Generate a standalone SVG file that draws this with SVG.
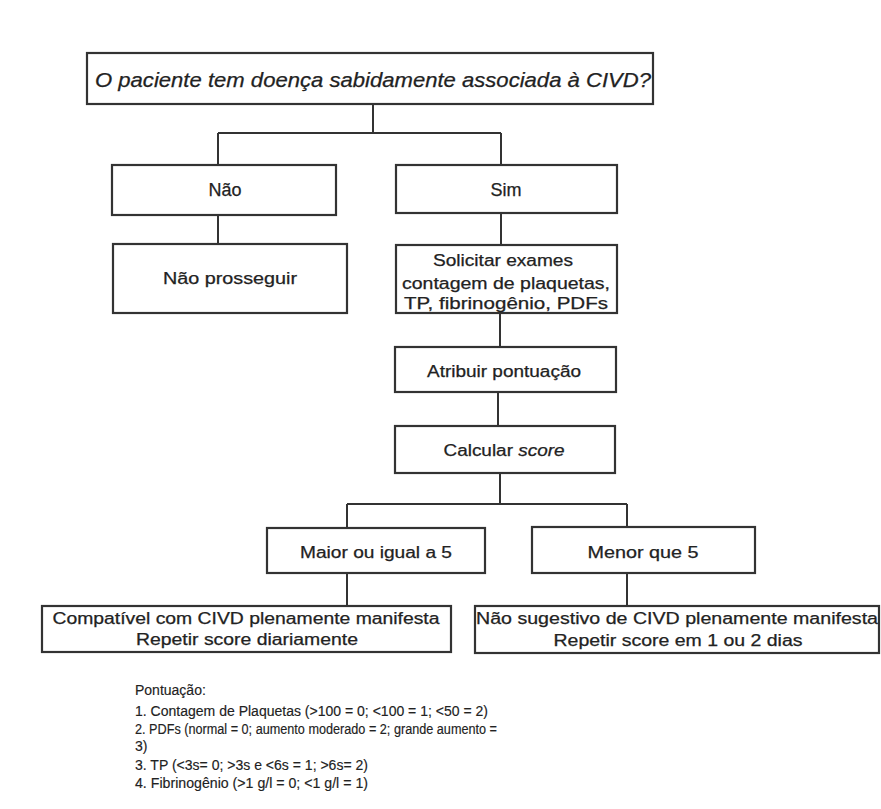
<svg xmlns="http://www.w3.org/2000/svg" width="881" height="809" viewBox="0 0 881 809">
<style>
.box{fill:#fff;stroke:#333;stroke-width:2.2}
.ln{fill:none;stroke:#333;stroke-width:2}
text{font-family:"Liberation Sans",Arial,sans-serif;fill:#222;text-anchor:middle;stroke:#222;stroke-width:0.25}
.t{font-size:16px}
.n{font-size:16px}
.lg{font-size:14px;text-anchor:start;stroke-width:0.15}
</style>
<rect width="881" height="809" fill="#fff"/>
<g id="connectors">
<path class="ln" d="M373 104V133M218 133H501M218 133V165M501 133V165"/>
<path class="ln" d="M218 215V244"/>
<path class="ln" d="M501 213V245"/>
<path class="ln" d="M500 313V347"/>
<path class="ln" d="M498 392V426"/>
<path class="ln" d="M500 473V504M347 504H627M347 504V528M627 504V527"/>
<path class="ln" d="M347 573V606M627 573V606"/>
</g>
<g id="q">
<rect class="box" x="87" y="53" width="566" height="51"/>
<text x="373" y="87" style="font-size:20px;font-style:italic" textLength="556" lengthAdjust="spacingAndGlyphs">O paciente tem doença sabidamente associada à CIVD?</text>
</g>
<g id="nao">
<rect class="box" x="112" y="165" width="224" height="50"/>
<text x="225" y="196" style="font-size:18px">Não</text>
</g>
<g id="sim">
<rect class="box" x="396" y="165" width="221" height="48"/>
<text x="506" y="196" style="font-size:18px">Sim</text>
</g>
<g id="naoprosseguir">
<rect class="box" x="113" y="244" width="234" height="69"/>
<text class="t" x="230" y="284" textLength="134" lengthAdjust="spacingAndGlyphs">Não prosseguir</text>
</g>
<g id="solicitar">
<rect class="box" x="396" y="245" width="221" height="68"/>
<text class="t" x="503" y="266" textLength="140" lengthAdjust="spacingAndGlyphs">Solicitar exames</text>
<text class="t" x="506" y="289" textLength="208" lengthAdjust="spacingAndGlyphs">contagem de plaquetas,</text>
<text class="t" x="506" y="309" textLength="204" lengthAdjust="spacingAndGlyphs">TP, fibrinogênio, PDFs</text>
</g>
<g id="atribuir">
<rect class="box" x="395" y="347" width="221" height="45"/>
<text class="t" x="504" y="377" textLength="154" lengthAdjust="spacingAndGlyphs">Atribuir pontuação</text>
</g>
<g id="calcular">
<rect class="box" x="395" y="426" width="220" height="47"/>
<text class="t" x="504" y="456" textLength="121" lengthAdjust="spacingAndGlyphs">Calcular <tspan font-style="italic">score</tspan></text>
</g>
<g id="maior">
<rect class="box" x="267" y="528" width="218" height="45"/>
<text class="n" x="376" y="558" textLength="152" lengthAdjust="spacingAndGlyphs">Maior ou igual a 5</text>
</g>
<g id="menor">
<rect class="box" x="532" y="527" width="223" height="46"/>
<text class="n" x="643" y="558" textLength="111" lengthAdjust="spacingAndGlyphs">Menor que 5</text>
</g>
<g id="compativel">
<rect class="box" x="42" y="606" width="409" height="46"/>
<text class="n" x="246" y="624" textLength="387" lengthAdjust="spacingAndGlyphs">Compatível com CIVD plenamente manifesta</text>
<text class="n" x="247" y="645" textLength="222" lengthAdjust="spacingAndGlyphs">Repetir score diariamente</text>
</g>
<g id="naosugestivo">
<rect class="box" x="475" y="606" width="404" height="47"/>
<text class="n" x="677" y="624" textLength="402" lengthAdjust="spacingAndGlyphs">Não sugestivo de CIVD plenamente manifesta</text>
<text class="n" x="678" y="646" textLength="249" lengthAdjust="spacingAndGlyphs">Repetir score em 1 ou 2 dias</text>
</g>
<g id="legenda">
<text class="lg" x="135" y="695">Pontuação:</text>
<text class="lg" x="135" y="716" textLength="353" lengthAdjust="spacingAndGlyphs">1. Contagem de Plaquetas (&gt;100 = 0; &lt;100 = 1; &lt;50 = 2)</text>
<text class="lg" x="135" y="734" textLength="362" lengthAdjust="spacingAndGlyphs">2. PDFs (normal = 0; aumento moderado = 2; grande aumento =</text>
<text class="lg" x="135" y="751">3)</text>
<text class="lg" x="135" y="770" textLength="233" lengthAdjust="spacingAndGlyphs">3. TP (&lt;3s= 0; &gt;3s e &lt;6s = 1; &gt;6s= 2)</text>
<text class="lg" x="135" y="788" textLength="233" lengthAdjust="spacingAndGlyphs">4. Fibrinogênio (&gt;1 g/l = 0; &lt;1 g/l = 1)</text>
</g>
</svg>
